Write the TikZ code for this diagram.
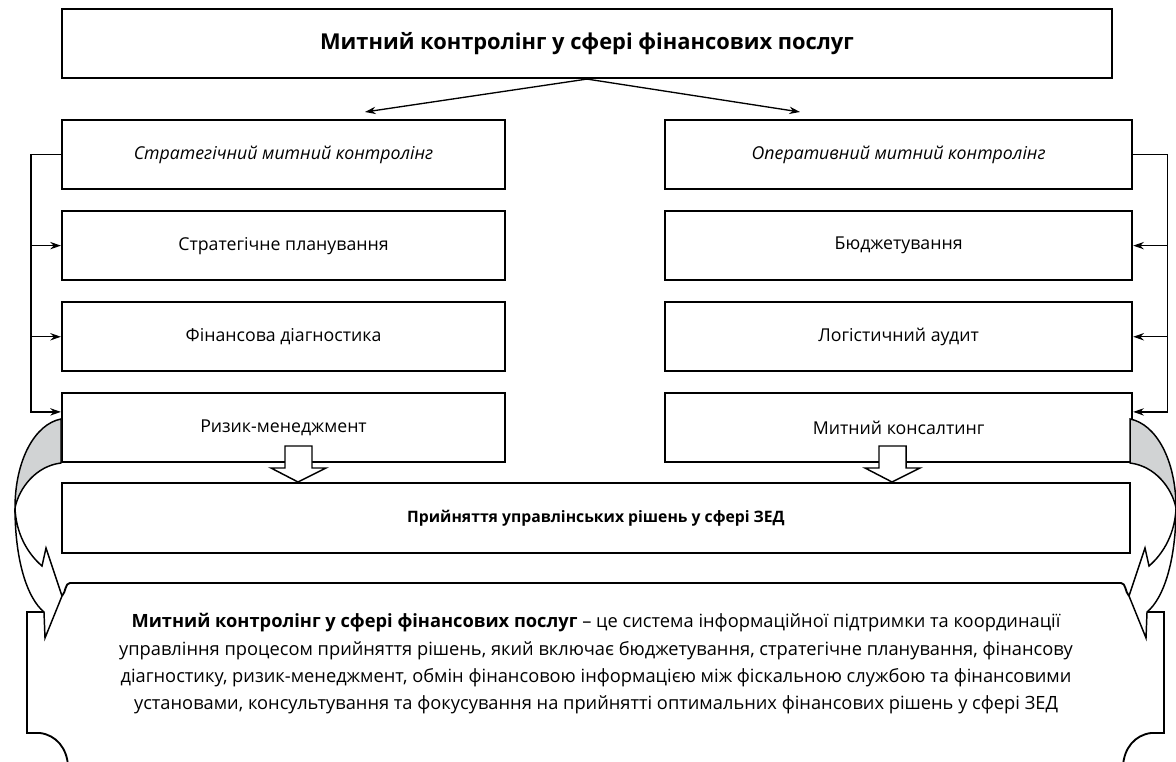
\documentclass[tikz,border=0pt]{standalone}
\usepackage{fontspec}
\setmainfont{Open Sans}
\usetikzlibrary{arrows.meta,positioning}
\definecolor{backside}{RGB}{209,211,212}

% twisted band with its head, drawn at the left; the right one is its mirror
\newcommand{\curlarrow}{%
  \filldraw[hollow, fill=backside] (61,419) .. controls (35,424) and (15,460) .. (15,508)
      .. controls (19,488) and (36,466) .. (61,463) -- cycle;
  \filldraw[hollow] (15,508) .. controls (15,560) and (27,598) .. (44,612)
      -- (45,638) -- (62,596) -- (46,548) -- (42,566)
      .. controls (27,553) and (16,533) .. (15,508) -- cycle;
}

\begin{document}
\begin{tikzpicture}
    [x=0.75pt, y=-0.75pt, node distance=15pt,
     font=\fontsize{13.3}{16}\selectfont,
     box/.style={draw, rectangle, line width=1.6pt, minimum height=51.75pt, align=center, inner sep=0pt},
     lbox/.style={box, minimum width=332.25pt},
     rbox/.style={box, minimum width=350.25pt},
     link/.style={line width=1pt, -{Stealth[length=8pt, width=5.5pt]}},
     frame/.style={line width=1.4pt},
     hollow/.style={draw, fill=white, line width=1.1pt, line join=miter}]

    \useasboundingbox (0,0) rectangle (1176,762);

    \node[box, minimum width=787.5pt, font=\fontsize{16.4}{20}\selectfont\bfseries] (top) at (587,43.5)
        {Митний контролінг у сфері фінансових послуг};

    \node[lbox, font=\fontsize{13.3}{16}\selectfont\itshape] (s1) at (283.5,154.5) {Стратегічний митний контролінг};
    \node[lbox, below=of s1] (s2) {Стратегічне планування};
    \node[lbox, below=of s2] (s3) {Фінансова діагностика};
    \node[lbox, below=of s3] (s4) {Ризик-менеджмент};

    \node[rbox, font=\fontsize{13.3}{16}\selectfont\itshape, right=118.5pt of s1] (r1) {Оперативний митний контролінг};
    \node[rbox, below=of r1] (r2) {Бюджетування};
    \node[rbox, below=of r2] (r3) {Логістичний аудит};
    \node[rbox, below=of r3] (r4) {Митний консалтинг};

    \node[box, minimum width=801pt, minimum height=52.5pt, font=\fontsize{11.8}{15}\selectfont\bfseries] (mid) at (596,518)
        {Прийняття управлінських рішень у сфері ЗЕД};

    \node[align=center, font=\fontsize{13.7}{20.5}\selectfont] (note) at (596,664)
        {\textbf{Митний контролінг у сфері фінансових послуг} – це система інформаційної підтримки та координації\\
         управління процесом прийняття рішень, який включає бюджетування, стратегічне планування, фінансову\\
         діагностику, ризик-менеджмент, обмін фінансовою інформацією між фіскальною службою та фінансовими\\
         установами, консультування та фокусування на прийнятті оптимальних фінансових рішень у сфері ЗЕД};

    % frame round the definition
    \draw[frame] (62,596) .. controls (66,592) and (65,583) .. (70,583) -- (1121,583)
        .. controls (1126,583) and (1125,592) .. (1129,596);
    \draw[frame] (44,612) -- (27,612) -- (27,733) -- (40,733) .. controls (56,735) and (67,748) .. (68,766);
    \draw[frame] (1147,612) -- (1164,612) -- (1164,733) -- (1151,733) .. controls (1135,735) and (1124,748) .. (1123,766);

    \curlarrow
    \begin{scope}[shift={(1191,0)}, xscale=-1]
        \curlarrow
    \end{scope}

    % block arrows into the decision box
    \foreach \bx in {298,892}
        \filldraw[hollow] (\bx-13,446) -- ++(27,0) -- ++(0,22) -- ++(14,0) -- (\bx,482)
            -- (\bx-27,468) -- ++(14,0) -- cycle;

    % from the title down to both branches
    \coordinate (lend) at (365,112);
    \coordinate (rend) at (800,112);
    \draw[link] (top.south) -- (lend);
    \draw[link] (top.south) -- (rend);

    \coordinate (lb) at ([xshift=-22.5pt]s1.west);
    \draw[link] (s1.west) -- (lb) |- ([yshift=12pt]s4.west);
    \draw[link] (lb |- s2.west) -- (s2.west);
    \draw[link] (lb |- s3.west) -- (s3.west);

    \coordinate (rb) at ([xshift=25.5pt]r1.east);
    \draw[link] (r1.east) -- (rb) |- ([yshift=12pt]r4.east);
    \draw[link] (rb |- r2.east) -- (r2.east);
    \draw[link] (rb |- r3.east) -- (r3.east);
\end{tikzpicture}
\end{document}
